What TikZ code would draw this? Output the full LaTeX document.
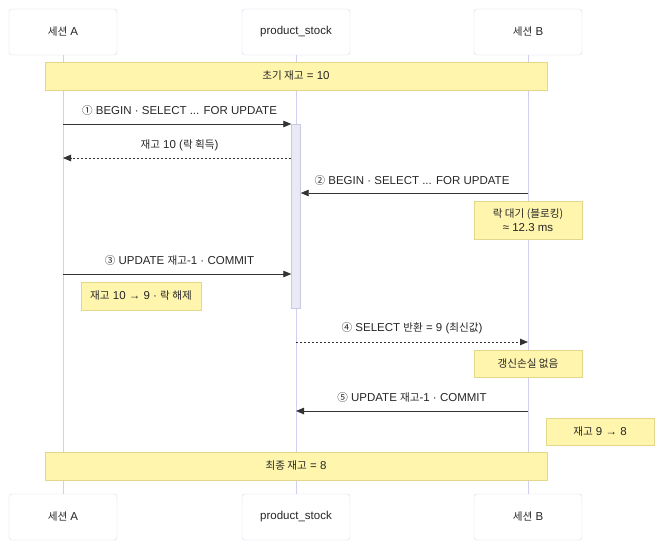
\documentclass[tikz,border=0pt]{standalone}
\usepackage{fontspec}
\setmainfont{Liberation Sans}
\newfontfamily\kr{Noto Sans CJK KR}[Scale=0.92]
\newcommand{\K}[1]{{\kr #1}}
\usetikzlibrary{arrows.meta}
\definecolor{actorborder}{HTML}{D8D8F2}
\definecolor{lifeline}{HTML}{CFCFEF}
\definecolor{notefill}{HTML}{FFF5AD}
\definecolor{noteborder}{HTML}{E2D78A}
\definecolor{actfill}{HTML}{E9E9F6}
\definecolor{actborder}{HTML}{C9C9E4}
\definecolor{msgline}{HTML}{333333}
\tikzset{
  actorbox/.style={draw=actorborder, fill=white, rounded corners=3pt, minimum width=108pt, minimum height=46pt, inner sep=0pt, font=\fontsize{11.5}{13}\selectfont, text=black!85},
  notebox/.style={draw=noteborder, fill=notefill, inner sep=0pt, font=\fontsize{11.5}{14}\selectfont, align=center, text=black!85},
  lifeln/.style={draw=lifeline, line width=0.8pt},
  msg/.style={draw=msgline, line width=0.8pt, -{Triangle[length=8pt,width=6.5pt]}},
  rmsg/.style={msg, dash pattern=on 2pt off 2pt},
  msglabel/.style={font=\fontsize{11.5}{13}\selectfont, text=black!85, inner sep=0pt},
}
\begin{document}
\begin{tikzpicture}[x=1pt,y=-1pt]
\useasboundingbox (0,0) rectangle (661,549);
% actors
\node[actorbox] (At) at (63,32) {\K{세션} A};
\node[actorbox] (Pt) at (296,32) {product\_stock};
\node[actorbox] (Bt) at (528,32) {\K{세션} B};
\node[actorbox] (Ab) at (63,517) {\K{세션} A};
\node[actorbox] (Pb) at (296,517) {product\_stock};
\node[actorbox] (Bb) at (528,517) {\K{세션} B};
% lifelines
\draw[lifeln] (At.south) -- (Ab.north);
\draw[lifeln] (Pt.south) -- (Pb.north);
\draw[lifeln] (Bt.south) -- (Bb.north);
% activation
\node[draw=actborder, fill=actfill, minimum width=9pt, minimum height=184pt, inner sep=0pt, anchor=north] (act) at (296,124) {};
% notes
\node[notebox, minimum width=502pt, minimum height=28pt] (n0) at (296,76) {\K{초기 재고} = 10};
\node[notebox, minimum width=502pt, minimum height=28pt] (n6) at (296,466) {\K{최종 재고} = 8};
\node[notebox, minimum width=108pt, minimum height=38pt] (n1) at (528,220) {\K{락 대기 (블로킹)}\\≈ 12.3 ms};
\node[notebox, minimum width=120pt, minimum height=28pt] (n2) at (141,296) {\K{재고} 10 → 9 · \K{락 해제}};
\node[notebox, minimum width=108pt, minimum height=27pt] (n3) at (528,363.5) {\K{갱신손실 없음}};
\node[notebox, minimum width=108pt, minimum height=27pt] (n4) at (600,431.5) {\K{재고} 9 → 8};
% message endpoints
\coordinate (a1) at (63,124);
\coordinate (p1) at (act.west |- a1);
\coordinate (p2) at (act.west |- 0,158);
\coordinate (a2) at (63,158);
\coordinate (b3) at (528,193);
\coordinate (p3) at (act.east |- b3);
\coordinate (a4) at (63,274);
\coordinate (p4) at (act.west |- a4);
\coordinate (p5) at (296,342);
\coordinate (b5) at (528,342);
\coordinate (b6) at (528,411);
\coordinate (p6) at (296,411);
% messages
\draw[msg] (a1) -- (p1);
\node[msglabel] (l1) at (179.5,110) {\K{①} BEGIN · SELECT ... FOR UPDATE};
\draw[rmsg] (p2) -- (a2);
\node[msglabel] (l2) at (179.5,145) {\K{재고} 10 (\K{락 획득})};
\draw[msg] (b3) -- (p3);
\node[msglabel] (l3) at (412,180) {\K{②} BEGIN · SELECT ... FOR UPDATE};
\draw[msg] (a4) -- (p4);
\node[msglabel] (l4) at (179.5,260) {\K{③} UPDATE \K{재고}-1 · COMMIT};
\draw[rmsg] (p5) -- (b5);
\node[msglabel] (l5) at (412,328) {\K{④} SELECT \K{반환} = 9 (\K{최신값})};
\draw[msg] (b6) -- (p6);
\node[msglabel] (l6) at (412,397) {\K{⑤} UPDATE \K{재고}-1 · COMMIT};
\end{tikzpicture}
\end{document}
